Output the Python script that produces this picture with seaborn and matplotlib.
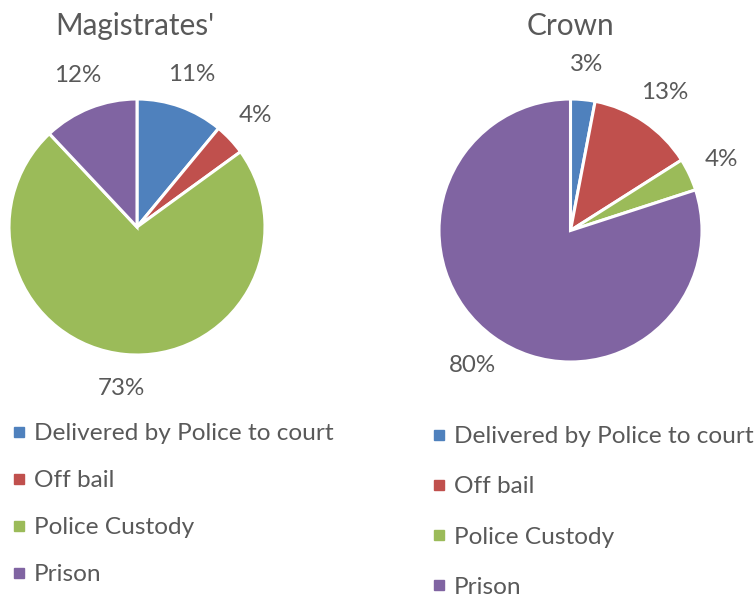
import matplotlib
matplotlib.use("Agg")
import matplotlib.pyplot as plt
from matplotlib.lines import Line2D
import seaborn as sns

sns.set_style("white")
plt.rcParams['font.family'] = ['Lato', 'DejaVu Sans']

categories = ["Delivered by Police to court", "Off bail", "Police Custody", "Prison"]
magistrates = [11, 4, 73, 12]
crown = [3, 13, 4, 80]
titles = ["Magistrates'", "Crown"]
colors = ["#4F81BD", "#C0504D", "#9BBB59", "#8064A2"]
TEXT = "#595959"

W, H = 755, 597
fig = plt.figure(figsize=(W / 100, H / 100), dpi=100)

def axes_for(cx, cy, r):
    return fig.add_axes([(cx - r) / W, (H - cy - r) / H, 2 * r / W, 2 * r / H])

specs = [
    (magistrates, (137, 227, 128), (135, 26), (12, 423), 1.06),
    (crown, (570.5, 230.5, 131.5), (570, 26), (432, 426), 1.19),
]

for (vals, (cx, cy, r), (tx, ty), (lx, ly), lsp), title in zip(specs, titles):
    ax = axes_for(cx, cy, r)
    wedges, texts, autotexts = ax.pie(
        vals, colors=colors, startangle=90, counterclock=False,
        wedgeprops=dict(edgecolor="white", linewidth=2.2),
        autopct="%1.0f%%", pctdistance=1.27,
        textprops=dict(color=TEXT, fontsize=17.4),
    )
    for w in wedges:
        w.set_clip_on(False)
    ax.set_xlim(-1, 1)
    ax.set_ylim(-1, 1)
    ax.set_aspect("equal")
    ax.axis("off")
    fig.text(tx / W, 1 - ty / H, title, ha="center", va="center",
             fontsize=21.4, color=TEXT)
    handles = [Line2D([], [], marker="s", linestyle="none", markersize=7.5,
                      markerfacecolor=c, markeredgecolor=c) for c in colors]
    fig.legend(handles, categories, loc="upper left",
               bbox_to_anchor=(lx / W, 1 - ly / H), frameon=False,
               fontsize=17.6, labelcolor=TEXT, handlelength=0.6,
               handletextpad=0.3, labelspacing=lsp, borderpad=0,
               borderaxespad=0)

fig.savefig("out.png", dpi=100, facecolor="white")
